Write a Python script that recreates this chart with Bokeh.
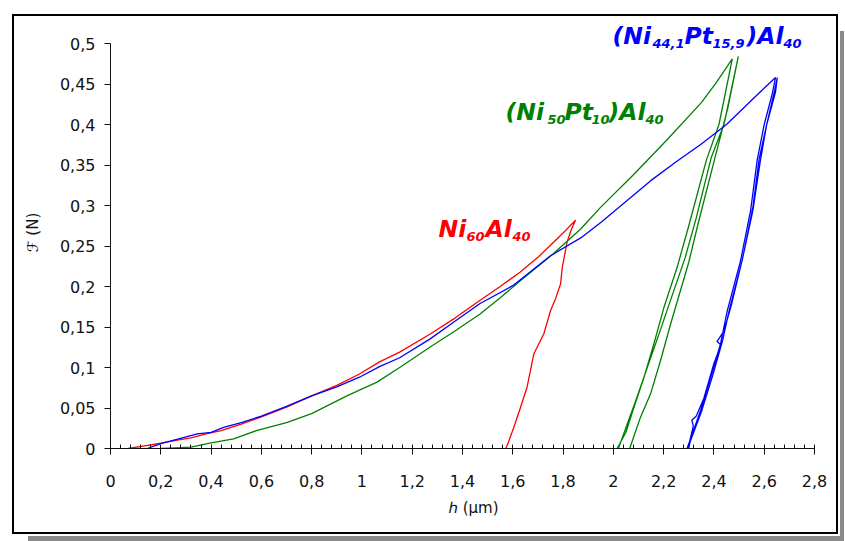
from bokeh.plotting import figure
from bokeh.models import Range1d, FixedTicker, Label, CustomJSTickFormatter
from bokeh.embed import file_html
from bokeh.resources import INLINE

# ---------------- data ----------------
# Ni60Al40 (red)
ni60_load_h = [0.07, 0.13, 0.20, 0.26, 0.32, 0.38, 0.44, 0.52, 0.60, 0.70, 0.80, 0.90, 0.99,
               1.07, 1.15, 1.27, 1.37, 1.47, 1.55, 1.63, 1.70, 1.75, 1.80, 1.85]
ni60_load_f = [0.000, 0.003, 0.0065, 0.010, 0.013, 0.018, 0.022, 0.030, 0.039, 0.051, 0.065, 0.078, 0.092,
               0.107, 0.119, 0.141, 0.161, 0.183, 0.200, 0.218, 0.236, 0.251, 0.266, 0.282]
ni60_unload_h = [1.835, 1.816, 1.797, 1.79, 1.77, 1.75, 1.724, 1.684, 1.657, 1.631, 1.604, 1.578, 1.572]
ni60_unload_f = [0.272, 0.255, 0.224, 0.203, 0.185, 0.170, 0.142, 0.117, 0.076, 0.051, 0.026, 0.004, 0.0]

# (Ni50Pt10)Al40 (green)
pt10_load_h = [0.20, 0.26, 0.32, 0.40, 0.49, 0.58, 0.70, 0.80, 0.94, 1.06, 1.15, 1.27, 1.37, 1.47,
               1.55, 1.63, 1.76, 1.87, 1.95, 2.08, 2.21, 2.35, 2.41, 2.473]
pt10_load_f = [0.0, 0.0008, 0.0016, 0.007, 0.012, 0.022, 0.032, 0.043, 0.065, 0.082, 0.100, 0.125, 0.145, 0.166,
               0.186, 0.207, 0.240, 0.271, 0.298, 0.338, 0.380, 0.427, 0.452, 0.481]
pt10_unload1_h = [2.42, 2.37, 2.30, 2.254, 2.201, 2.161, 2.122, 2.082, 2.05, 2.015]
pt10_unload1_f = [0.40, 0.356, 0.275, 0.224, 0.174, 0.129, 0.088, 0.051, 0.02, 0.0]
pt10_reload_h = [2.02, 2.055, 2.09, 2.135, 2.18, 2.235, 2.285, 2.33, 2.39, 2.44, 2.497]
pt10_reload_f = [0.0, 0.03, 0.06, 0.10, 0.14, 0.19, 0.235, 0.285, 0.36, 0.40, 0.484]
pt10_unload2_h = [2.455, 2.405, 2.335, 2.30, 2.228, 2.188, 2.148, 2.108, 2.065]
pt10_unload2_f = [0.42, 0.36, 0.275, 0.23, 0.154, 0.109, 0.0675, 0.0387, 0.0]

# (Ni44,1Pt15,9)Al40 (blue)
pt15_load_h = [0.146, 0.20, 0.26, 0.345, 0.40, 0.45, 0.52, 0.60, 0.70, 0.80, 0.90, 0.99, 1.07, 1.15,
               1.27, 1.37, 1.47, 1.60, 1.75, 1.87, 1.95, 2.05, 2.15, 2.25, 2.35, 2.45, 2.59, 2.645]
pt15_load_f = [0.0, 0.006, 0.011, 0.018, 0.020, 0.026, 0.032, 0.040, 0.052, 0.065, 0.076, 0.088, 0.101, 0.112,
               0.135, 0.157, 0.179, 0.201, 0.238, 0.260, 0.279, 0.305, 0.331, 0.354, 0.376, 0.400, 0.442, 0.458]
pt15_unload1_h = [2.632, 2.60, 2.572, 2.546, 2.506, 2.453, 2.426, 2.387, 2.347, 2.30, 2.293]
pt15_unload1_f = [0.438, 0.40, 0.356, 0.294, 0.232, 0.170, 0.129, 0.088, 0.047, 0.006, 0.0]
pt15_reload_h = [2.297, 2.318, 2.312, 2.33, 2.36, 2.40, 2.428, 2.412, 2.44, 2.47, 2.515, 2.555, 2.58, 2.61, 2.64, 2.652]
pt15_reload_f = [0.0, 0.028, 0.035, 0.04, 0.062, 0.105, 0.128, 0.132, 0.145, 0.178, 0.236, 0.298, 0.358, 0.40, 0.44, 0.458]
pt15_unload2_h = [2.645, 2.61, 2.585, 2.555, 2.512, 2.462, 2.435, 2.395, 2.352, 2.305, 2.30]
pt15_unload2_f = [0.44, 0.40, 0.356, 0.294, 0.232, 0.172, 0.134, 0.09, 0.047, 0.008, 0.0]

# ticks
x_ticks = [0, 0.2, 0.4, 0.6, 0.8, 1.0, 1.2, 1.4, 1.6, 1.8, 2.0, 2.2, 2.4, 2.6, 2.8]
x_tick_labels = ["0", "0,2", "0,4", "0,6", "0,8", "1", "1,2", "1,4", "1,6", "1,8", "2", "2,2", "2,4", "2,6", "2,8"]
y_ticks = [0, 0.05, 0.1, 0.15, 0.2, 0.25, 0.3, 0.35, 0.4, 0.45, 0.5]
y_tick_labels = ["0", "0,05", "0,1", "0,15", "0,2", "0,25", "0,3", "0,35", "0,4", "0,45", "0,5"]
x_minor_ticks = [round(i * 0.04, 2) for i in range(71)]

x_label = "\u210e (\u00b5m)"
y_label = "\u2131 (N)"

RED, GREEN, BLUE = "#ff0000", "#008000", "#0000ff"

# ---------------- figure ----------------
# canvas placed at page (14, 16); data origin at page (110, 448)
OX, OY = 14, 16
W, H = 822, 516
X0, Y0 = 110, 448
PX_PER_X = 704 / 2.8
PX_PER_Y = 405 / 0.5
FL = X0 - OX
FB = OY + H - Y0
x_end = (OX + W - X0) / PX_PER_X
y_end = (Y0 - OY) / PX_PER_Y

p = figure(width=W, height=H, x_range=Range1d(0, x_end), y_range=Range1d(0, y_end),
           output_backend="svg", toolbar_location=None,
           min_border_left=FL, min_border_right=0, min_border_top=0, min_border_bottom=FB)
p.margin = (OY, 0, 0, OX)
p.styles = {"box-shadow": "0 0 0 2px #000000, 0 0 0 4px #ffffff, 11px 12px 0 -3px #8a8a8a"}
p.outline_line_color = None
p.xgrid.visible = False
p.ygrid.visible = False
p.background_fill_color = "white"
p.border_fill_color = "white"

fmt_code = """
let best = 0, d = Infinity;
for (let i = 0; i < tvals.length; i++) { const e = Math.abs(tvals[i] - tick); if (e < d) { d = e; best = i; } }
return tlabels[best];
"""
p.xaxis.ticker = FixedTicker(ticks=x_ticks, minor_ticks=x_minor_ticks)
p.xaxis.formatter = CustomJSTickFormatter(args=dict(tvals=x_ticks, tlabels=x_tick_labels), code=fmt_code)
p.yaxis.ticker = FixedTicker(ticks=y_ticks, minor_ticks=[])
p.yaxis.formatter = CustomJSTickFormatter(args=dict(tvals=y_ticks, tlabels=y_tick_labels), code=fmt_code)
p.xaxis.bounds = (x_ticks[0], x_ticks[-1])
p.yaxis.bounds = (y_ticks[0], y_ticks[-1])

for ax in (p.xaxis[0], p.yaxis[0]):
    ax.axis_line_color = "#111111"
    ax.major_tick_line_color = "#111111"
    ax.minor_tick_line_color = "#111111"
    ax.major_label_text_font = "DejaVu Sans"
    ax.major_label_text_font_size = "16px"
    ax.major_label_text_color = "#111111"
    ax.axis_label_text_font = "DejaVu Sans"
    ax.axis_label_text_font_size = "15px"
    ax.axis_label_text_font_style = "normal"
    ax.axis_label_text_color = "#111111"

p.xaxis.major_tick_in = 3
p.xaxis.major_tick_out = 6
p.xaxis.minor_tick_in = 4
p.xaxis.minor_tick_out = 0
p.xaxis.major_label_standoff = 20
p.xaxis.axis_label = x_label
p.xaxis.axis_label_standoff = 9

p.yaxis.major_tick_in = 0
p.yaxis.major_tick_out = 6
p.yaxis.major_label_standoff = 9
p.yaxis.axis_label = y_label
p.yaxis.axis_label_standoff = 15

# ---------------- curves ----------------
lw = 1.3
p.line(ni60_load_h + ni60_unload_h, ni60_load_f + ni60_unload_f, line_color=RED, line_width=lw)
p.line(pt10_load_h + pt10_unload1_h + pt10_reload_h + pt10_unload2_h,
       pt10_load_f + pt10_unload1_f + pt10_reload_f + pt10_unload2_f, line_color=GREEN, line_width=lw)
p.line(pt15_load_h + pt15_unload1_h + pt15_reload_h + pt15_unload2_h,
       pt15_load_f + pt15_unload1_f + pt15_reload_f + pt15_unload2_f, line_color=BLUE, line_width=lw)

# ---------------- composition labels (with subscripts) ----------------
MAIN_SIZE, SUB_SIZE = 23.5, 13.0


def to_data(px, py):
    return (px - X0) / PX_PER_X, (Y0 - py) / PX_PER_Y


def add_formula(parts, color, base_py):
    for text, px, sub in parts:
        size = SUB_SIZE if sub else MAIN_SIZE
        baseline = base_py + (3.5 if sub else 0)
        x, y = to_data(px, baseline - 0.37 * size)
        p.add_layout(Label(x=x, y=y, text=text, text_color=color, text_font="DejaVu Sans",
                           text_font_style="bold italic", text_font_size=f"{size}px",
                           text_baseline="middle", text_align="left"))


add_formula([("(Ni", 612, False), ("44,1", 652, True), ("Pt", 684, False), ("15,9", 712, True),
             (")Al", 746, False), ("40", 783, True)], BLUE, 44)
add_formula([("(Ni", 505, False), ("50", 547, True), ("Pt", 564, False), ("10", 591, True),
             (")Al", 608, False), ("40", 645, True)], GREEN, 120)
add_formula([("Ni", 438, False), ("60", 466, True), ("Al", 485, False), ("40", 512, True)], RED, 237.5)

open("out.html", "w").write(file_html(p, INLINE))
